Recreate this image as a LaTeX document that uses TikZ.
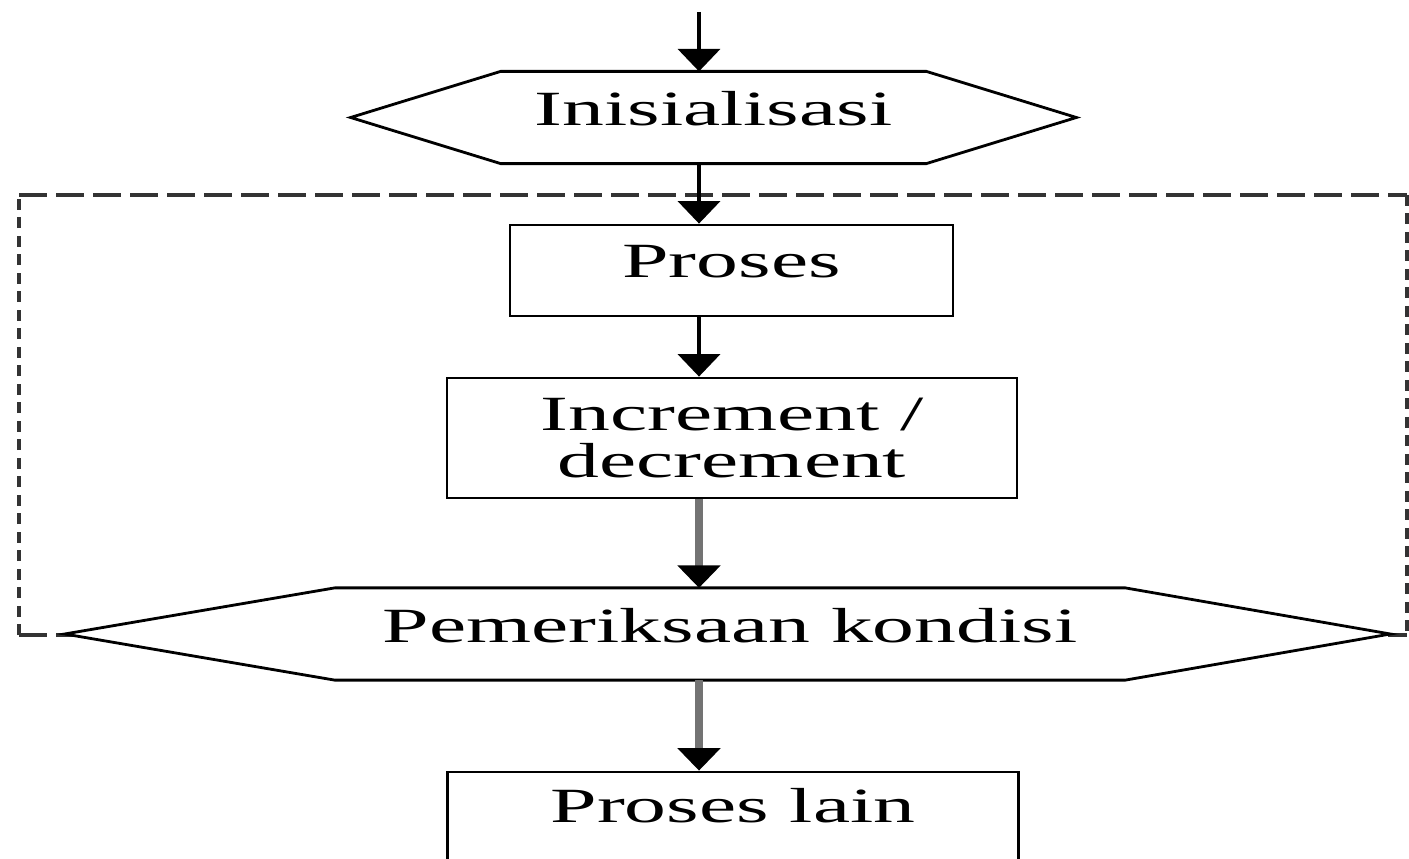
\documentclass[tikz,border=0pt]{standalone}
\usepackage{fontspec}
\setmainfont{Liberation Serif}
\usetikzlibrary{arrows.meta,backgrounds}
\newcommand{\wide}[1]{\scalebox{1.7}[1]{#1}}
\begin{document}
\begin{tikzpicture}[font=\fontsize{28}{27}\selectfont,
  box/.style={draw, line width=1.6pt, inner sep=0pt, minimum height=1.82cm, text depth=0.35cm},
  hexbox/.style={inner sep=0pt, minimum height=1.83cm, text depth=0.35cm},
  shape line/.style={draw, line width=1.6pt, fill=white},
  loop line/.style={line width=2pt, black!80},
  arr/.style={line width=2.3pt, -{Triangle[width=0.84cm,length=0.45cm]}},
  grayarr/.style={line width=4.2pt, black!55, -{Triangle[width=0.84cm,length=0.45cm,color=black]}}]
  \useasboundingbox (0,0) rectangle (28.18,-17.18);
  \coordinate (start) at (13.98,-0.24);
  \node[hexbox, minimum width=8.5cm] (init) at (14.27,-2.35) {\wide{Inisialisasi}};
  \node[box, minimum width=8.86cm] (proc) at (14.63,-5.41) {\wide{Proses}};
  \node[box, minimum width=11.4cm, minimum height=2.4cm, text depth=, align=center] (incr) at (14.64,-8.76)
    {\wide{Increment /}\\\wide{decrement}};
  \node[hexbox, minimum width=15.8cm] (cond) at (14.6,-12.68) {\wide{Pemeriksaan kondisi}};
  \node[draw, line width=1.6pt, inner sep=0pt, minimum width=11.42cm, text height=1.0cm, text depth=1.6cm,
    anchor=base] (other) at (14.66,-16.44) {\wide{Proses lain}};
  % loop frame and hexagons behind the texts
  \begin{pgfonlayer}{background}
    \draw[loop line, dash pattern=on 0.22cm off 0.15cm] (0.38,-12.7) -- (0.38,-3.9);
    \draw[loop line, dash pattern=on 0.56cm off 0.18cm] (0.38,-3.9) -- (28.14,-3.9);
    \draw[loop line, dash pattern=on 0.22cm off 0.15cm] (28.14,-3.9) -- (28.14,-12.7);
    \draw[loop line, dash pattern=on 0.56cm off 0.18cm] (0.38,-12.7) -- (28.14,-12.7);
    \draw[shape line] (init.north west) -- (init.north east) -- ([xshift=3cm]init.east)
      -- (init.south east) -- (init.south west) -- ([xshift=-3cm]init.west) -- cycle;
    \draw[shape line] (cond.north west) -- (cond.north east) -- ([xshift=5.3cm]cond.east)
      -- (cond.south east) -- (cond.south west) -- ([xshift=-5.4cm]cond.west) -- cycle;
  \end{pgfonlayer}
  \draw[arr] (start) -- (start |- init.north);
  \draw[arr] (start |- init.south) -- (start |- proc.north);
  \draw[arr] (start |- proc.south) -- (start |- incr.north);
  \draw[grayarr] (start |- incr.south) -- (start |- cond.north);
  \draw[grayarr] (start |- cond.south) -- (start |- other.north);
\end{tikzpicture}
\end{document}
